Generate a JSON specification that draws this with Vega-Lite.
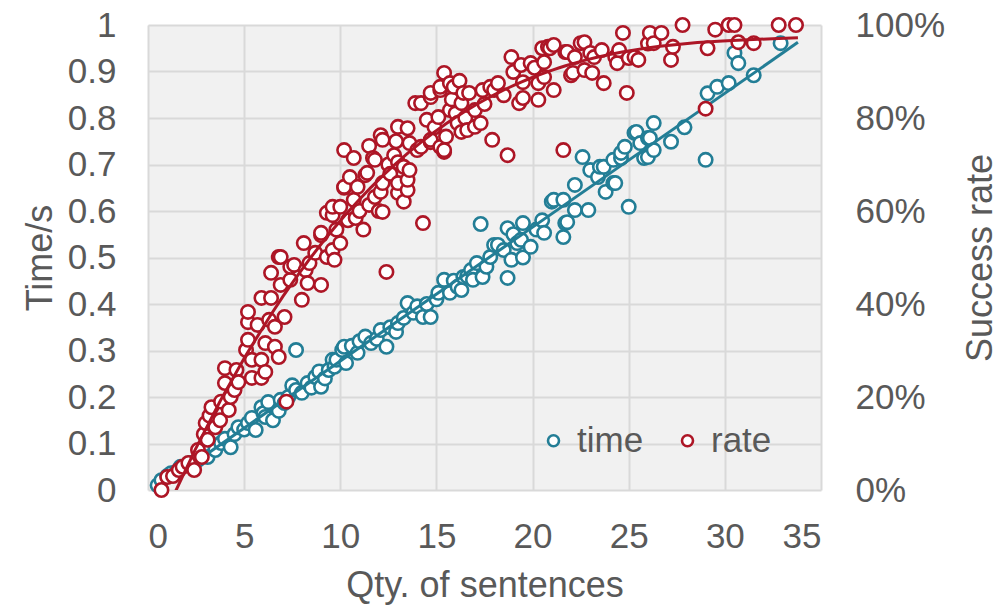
{
  "$schema": "https://vega.github.io/schema/vega-lite/v6.json",
  "width": 673,
  "height": 465,
  "autosize": {"type": "none"},
  "padding": {"left": 148, "top": 25, "right": 182, "bottom": 115},
  "background": "white",
  "config": {
    "font": "Liberation Sans",
    "view": {"stroke": null, "fill": "#f1f1f1"},
    "axis": {
      "domain": false,
      "ticks": false,
      "tickSize": 0,
      "gridColor": "#d9d9d9",
      "gridWidth": 2,
      "labelFontSize": 35,
      "labelColor": "#595959",
      "titleFontSize": 36,
      "titleFontWeight": "normal",
      "titleColor": "#595959"
    }
  },
  "datasets": {
    "pts": [
      {"s":"time","x":0.5,"v":0.01},{"s":"time","x":0.7,"v":0.021},{"s":"time","x":1.0,"v":0.03},{"s":"time","x":1.2,"v":0.036},{"s":"time","x":1.5,"v":0.04},{"s":"time","x":1.7,"v":0.05},{"s":"time","x":2.2,"v":0.058},{"s":"time","x":2.6,"v":0.065},{"s":"time","x":3.1,"v":0.071},{"s":"time","x":3.5,"v":0.086},{"s":"time","x":3.8,"v":0.101},{"s":"time","x":4.0,"v":0.11},{"s":"time","x":4.3,"v":0.092},{"s":"time","x":4.5,"v":0.12},{"s":"time","x":4.7,"v":0.135},{"s":"time","x":5.0,"v":0.13},{"s":"time","x":5.2,"v":0.144},{"s":"time","x":5.4,"v":0.155},{"s":"time","x":5.6,"v":0.129},{"s":"time","x":5.9,"v":0.178},{"s":"time","x":6.0,"v":0.165},{"s":"time","x":6.1,"v":0.157},{"s":"time","x":6.25,"v":0.189},{"s":"time","x":6.5,"v":0.15},{"s":"time","x":6.8,"v":0.17},{"s":"time","x":6.9,"v":0.194},{"s":"time","x":7.1,"v":0.187},{"s":"time","x":7.3,"v":0.2},{"s":"time","x":7.5,"v":0.225},{"s":"time","x":7.7,"v":0.215},{"s":"time","x":7.7,"v":0.301},{"s":"time","x":8.0,"v":0.209},{"s":"time","x":8.3,"v":0.23},{"s":"time","x":8.5,"v":0.22},{"s":"time","x":8.7,"v":0.243},{"s":"time","x":8.9,"v":0.255},{"s":"time","x":9.0,"v":0.222},{"s":"time","x":9.2,"v":0.24},{"s":"time","x":9.4,"v":0.258},{"s":"time","x":9.6,"v":0.28},{"s":"time","x":9.7,"v":0.265},{"s":"time","x":9.8,"v":0.28},{"s":"time","x":10.1,"v":0.301},{"s":"time","x":10.2,"v":0.308},{"s":"time","x":10.3,"v":0.273},{"s":"time","x":10.6,"v":0.31},{"s":"time","x":10.9,"v":0.295},{"s":"time","x":11.0,"v":0.32},{"s":"time","x":11.3,"v":0.33},{"s":"time","x":11.6,"v":0.316},{"s":"time","x":11.9,"v":0.325},{"s":"time","x":12.1,"v":0.344},{"s":"time","x":12.4,"v":0.308},{"s":"time","x":12.6,"v":0.35},{"s":"time","x":12.9,"v":0.34},{"s":"time","x":13.0,"v":0.359},{"s":"time","x":13.3,"v":0.37},{"s":"time","x":13.5,"v":0.402},{"s":"time","x":13.8,"v":0.381},{"s":"time","x":14.0,"v":0.395},{"s":"time","x":14.3,"v":0.372},{"s":"time","x":14.5,"v":0.4},{"s":"time","x":14.7,"v":0.372},{"s":"time","x":15.0,"v":0.41},{"s":"time","x":15.1,"v":0.424},{"s":"time","x":15.4,"v":0.452},{"s":"time","x":15.7,"v":0.424},{"s":"time","x":15.9,"v":0.45},{"s":"time","x":16.1,"v":0.437},{"s":"time","x":16.3,"v":0.43},{"s":"time","x":16.4,"v":0.458},{"s":"time","x":16.6,"v":0.46},{"s":"time","x":16.8,"v":0.473},{"s":"time","x":16.9,"v":0.452},{"s":"time","x":17.1,"v":0.488},{"s":"time","x":17.3,"v":0.572},{"s":"time","x":17.4,"v":0.458},{"s":"time","x":17.6,"v":0.48},{"s":"time","x":17.8,"v":0.501},{"s":"time","x":18.0,"v":0.527},{"s":"time","x":18.2,"v":0.527},{"s":"time","x":18.5,"v":0.516},{"s":"time","x":18.7,"v":0.456},{"s":"time","x":18.7,"v":0.563},{"s":"time","x":18.9,"v":0.495},{"s":"time","x":19.0,"v":0.55},{"s":"time","x":19.2,"v":0.531},{"s":"time","x":19.4,"v":0.538},{"s":"time","x":19.5,"v":0.574},{"s":"time","x":19.5,"v":0.5},{"s":"time","x":19.9,"v":0.523},{"s":"time","x":20.2,"v":0.56},{"s":"time","x":20.5,"v":0.58},{"s":"time","x":20.6,"v":0.553},{"s":"time","x":21.0,"v":0.62},{"s":"time","x":21.1,"v":0.624},{"s":"time","x":21.6,"v":0.544},{"s":"time","x":21.6,"v":0.624},{"s":"time","x":21.7,"v":0.574},{"s":"time","x":21.8,"v":0.576},{"s":"time","x":22.2,"v":0.602},{"s":"time","x":22.2,"v":0.656},{"s":"time","x":22.6,"v":0.716},{"s":"time","x":22.9,"v":0.602},{"s":"time","x":23.0,"v":0.688},{"s":"time","x":23.4,"v":0.673},{"s":"time","x":23.5,"v":0.695},{"s":"time","x":23.7,"v":0.695},{"s":"time","x":23.8,"v":0.641},{"s":"time","x":24.2,"v":0.66},{"s":"time","x":24.2,"v":0.71},{"s":"time","x":24.3,"v":0.66},{"s":"time","x":24.6,"v":0.714},{"s":"time","x":24.6,"v":0.725},{"s":"time","x":24.8,"v":0.738},{"s":"time","x":25.0,"v":0.609},{"s":"time","x":25.3,"v":0.768},{"s":"time","x":25.4,"v":0.77},{"s":"time","x":25.6,"v":0.746},{"s":"time","x":25.8,"v":0.714},{"s":"time","x":26.0,"v":0.716},{"s":"time","x":26.0,"v":0.757},{"s":"time","x":26.1,"v":0.757},{"s":"time","x":26.3,"v":0.789},{"s":"time","x":26.3,"v":0.731},{"s":"time","x":27.2,"v":0.749},{"s":"time","x":27.9,"v":0.78},{"s":"time","x":29.0,"v":0.71},{"s":"time","x":29.1,"v":0.853},{"s":"time","x":29.6,"v":0.867},{"s":"time","x":30.2,"v":0.875},{"s":"time","x":30.5,"v":0.94},{"s":"time","x":30.7,"v":0.918},{"s":"time","x":31.5,"v":0.892},{"s":"time","x":32.9,"v":0.961},
      {"s":"rate","x":0.7,"v":0.0},{"s":"rate","x":1.0,"v":0.028},{"s":"rate","x":1.3,"v":0.03},{"s":"rate","x":1.6,"v":0.043},{"s":"rate","x":1.8,"v":0.05},{"s":"rate","x":2.1,"v":0.058},{"s":"rate","x":2.4,"v":0.043},{"s":"rate","x":2.6,"v":0.086},{"s":"rate","x":2.8,"v":0.071},{"s":"rate","x":2.9,"v":0.12},{"s":"rate","x":3.0,"v":0.144},{"s":"rate","x":3.1,"v":0.108},{"s":"rate","x":3.2,"v":0.16},{"s":"rate","x":3.3,"v":0.178},{"s":"rate","x":3.5,"v":0.135},{"s":"rate","x":3.75,"v":0.15},{"s":"rate","x":3.8,"v":0.19},{"s":"rate","x":4.0,"v":0.23},{"s":"rate","x":4.0,"v":0.262},{"s":"rate","x":4.2,"v":0.172},{"s":"rate","x":4.3,"v":0.2},{"s":"rate","x":4.5,"v":0.215},{"s":"rate","x":4.6,"v":0.258},{"s":"rate","x":4.7,"v":0.232},{"s":"rate","x":5.1,"v":0.301},{"s":"rate","x":5.2,"v":0.323},{"s":"rate","x":5.2,"v":0.361},{"s":"rate","x":5.2,"v":0.383},{"s":"rate","x":5.4,"v":0.241},{"s":"rate","x":5.4,"v":0.28},{"s":"rate","x":5.7,"v":0.355},{"s":"rate","x":5.9,"v":0.241},{"s":"rate","x":5.9,"v":0.28},{"s":"rate","x":5.9,"v":0.413},{"s":"rate","x":6.1,"v":0.254},{"s":"rate","x":6.1,"v":0.316},{"s":"rate","x":6.3,"v":0.366},{"s":"rate","x":6.4,"v":0.413},{"s":"rate","x":6.4,"v":0.467},{"s":"rate","x":6.6,"v":0.308},{"s":"rate","x":6.6,"v":0.351},{"s":"rate","x":6.8,"v":0.286},{"s":"rate","x":6.8,"v":0.501},{"s":"rate","x":6.9,"v":0.441},{"s":"rate","x":6.9,"v":0.501},{"s":"rate","x":7.1,"v":0.372},{"s":"rate","x":7.2,"v":0.19},{"s":"rate","x":7.4,"v":0.452},{"s":"rate","x":7.4,"v":0.48},{"s":"rate","x":7.6,"v":0.484},{"s":"rate","x":8.0,"v":0.409},{"s":"rate","x":8.1,"v":0.531},{"s":"rate","x":8.2,"v":0.473},{"s":"rate","x":8.3,"v":0.445},{"s":"rate","x":8.4,"v":0.488},{"s":"rate","x":8.7,"v":0.51},{"s":"rate","x":9.0,"v":0.441},{"s":"rate","x":9.0,"v":0.548},{"s":"rate","x":9.0,"v":0.553},{"s":"rate","x":9.3,"v":0.501},{"s":"rate","x":9.3,"v":0.596},{"s":"rate","x":9.6,"v":0.516},{"s":"rate","x":9.6,"v":0.591},{"s":"rate","x":9.6,"v":0.609},{"s":"rate","x":9.7,"v":0.495},{"s":"rate","x":9.8,"v":0.56},{"s":"rate","x":10.0,"v":0.531},{"s":"rate","x":10.0,"v":0.609},{"s":"rate","x":10.2,"v":0.65},{"s":"rate","x":10.2,"v":0.652},{"s":"rate","x":10.2,"v":0.731},{"s":"rate","x":10.4,"v":0.58},{"s":"rate","x":10.5,"v":0.673},{"s":"rate","x":10.7,"v":0.624},{"s":"rate","x":10.7,"v":0.714},{"s":"rate","x":10.8,"v":0.585},{"s":"rate","x":10.9,"v":0.652},{"s":"rate","x":11.0,"v":0.6},{"s":"rate","x":11.2,"v":0.56},{"s":"rate","x":11.3,"v":0.677},{"s":"rate","x":11.4,"v":0.682},{"s":"rate","x":11.5,"v":0.613},{"s":"rate","x":11.5,"v":0.74},{"s":"rate","x":11.7,"v":0.714},{"s":"rate","x":11.8,"v":0.63},{"s":"rate","x":11.8,"v":0.71},{"s":"rate","x":12.0,"v":0.6},{"s":"rate","x":12.1,"v":0.641},{"s":"rate","x":12.1,"v":0.763},{"s":"rate","x":12.2,"v":0.598},{"s":"rate","x":12.2,"v":0.66},{"s":"rate","x":12.2,"v":0.753},{"s":"rate","x":12.4,"v":0.469},{"s":"rate","x":12.5,"v":0.7},{"s":"rate","x":12.6,"v":0.68},{"s":"rate","x":12.8,"v":0.72},{"s":"rate","x":12.9,"v":0.75},{"s":"rate","x":13.0,"v":0.639},{"s":"rate","x":13.0,"v":0.66},{"s":"rate","x":13.0,"v":0.705},{"s":"rate","x":13.0,"v":0.781},{"s":"rate","x":13.3,"v":0.62},{"s":"rate","x":13.3,"v":0.695},{"s":"rate","x":13.5,"v":0.645},{"s":"rate","x":13.5,"v":0.667},{"s":"rate","x":13.5,"v":0.778},{"s":"rate","x":13.6,"v":0.688},{"s":"rate","x":13.6,"v":0.746},{"s":"rate","x":13.9,"v":0.832},{"s":"rate","x":14.0,"v":0.731},{"s":"rate","x":14.2,"v":0.738},{"s":"rate","x":14.2,"v":0.832},{"s":"rate","x":14.3,"v":0.574},{"s":"rate","x":14.5,"v":0.796},{"s":"rate","x":14.7,"v":0.748},{"s":"rate","x":14.7,"v":0.753},{"s":"rate","x":14.7,"v":0.845},{"s":"rate","x":14.7,"v":0.854},{"s":"rate","x":14.9,"v":0.78},{"s":"rate","x":15.1,"v":0.802},{"s":"rate","x":15.2,"v":0.738},{"s":"rate","x":15.2,"v":0.86},{"s":"rate","x":15.2,"v":0.867},{"s":"rate","x":15.4,"v":0.727},{"s":"rate","x":15.4,"v":0.731},{"s":"rate","x":15.4,"v":0.897},{"s":"rate","x":15.5,"v":0.76},{"s":"rate","x":15.7,"v":0.817},{"s":"rate","x":15.7,"v":0.875},{"s":"rate","x":15.8,"v":0.84},{"s":"rate","x":15.9,"v":0.867},{"s":"rate","x":16.0,"v":0.81},{"s":"rate","x":16.1,"v":0.789},{"s":"rate","x":16.2,"v":0.88},{"s":"rate","x":16.3,"v":0.77},{"s":"rate","x":16.3,"v":0.832},{"s":"rate","x":16.4,"v":0.854},{"s":"rate","x":16.5,"v":0.8},{"s":"rate","x":16.6,"v":0.774},{"s":"rate","x":16.7,"v":0.854},{"s":"rate","x":17.0,"v":0.781},{"s":"rate","x":17.0,"v":0.817},{"s":"rate","x":17.3,"v":0.789},{"s":"rate","x":17.4,"v":0.86},{"s":"rate","x":17.5,"v":0.83},{"s":"rate","x":17.8,"v":0.867},{"s":"rate","x":17.9,"v":0.753},{"s":"rate","x":18.0,"v":0.86},{"s":"rate","x":18.2,"v":0.875},{"s":"rate","x":18.5,"v":0.849},{"s":"rate","x":18.7,"v":0.72},{"s":"rate","x":18.9,"v":0.931},{"s":"rate","x":19.0,"v":0.899},{"s":"rate","x":19.3,"v":0.832},{"s":"rate","x":19.4,"v":0.914},{"s":"rate","x":19.5,"v":0.843},{"s":"rate","x":19.5,"v":0.877},{"s":"rate","x":19.9,"v":0.918},{"s":"rate","x":20.1,"v":0.908},{"s":"rate","x":20.3,"v":0.839},{"s":"rate","x":20.3,"v":0.875},{"s":"rate","x":20.5,"v":0.95},{"s":"rate","x":20.6,"v":0.888},{"s":"rate","x":20.6,"v":0.92},{"s":"rate","x":20.8,"v":0.953},{"s":"rate","x":20.9,"v":0.95},{"s":"rate","x":21.1,"v":0.86},{"s":"rate","x":21.1,"v":0.957},{"s":"rate","x":21.6,"v":0.731},{"s":"rate","x":21.7,"v":0.942},{"s":"rate","x":21.8,"v":0.942},{"s":"rate","x":22.0,"v":0.892},{"s":"rate","x":22.1,"v":0.897},{"s":"rate","x":22.2,"v":0.931},{"s":"rate","x":22.5,"v":0.961},{"s":"rate","x":22.7,"v":0.903},{"s":"rate","x":22.7,"v":0.963},{"s":"rate","x":23.0,"v":0.94},{"s":"rate","x":23.1,"v":0.897},{"s":"rate","x":23.2,"v":0.931},{"s":"rate","x":23.6,"v":0.946},{"s":"rate","x":23.7,"v":0.875},{"s":"rate","x":24.3,"v":0.931},{"s":"rate","x":24.4,"v":0.918},{"s":"rate","x":24.5,"v":0.946},{"s":"rate","x":24.7,"v":0.983},{"s":"rate","x":24.9,"v":0.854},{"s":"rate","x":25.0,"v":0.929},{"s":"rate","x":25.3,"v":0.931},{"s":"rate","x":25.5,"v":0.925},{"s":"rate","x":26.0,"v":0.96},{"s":"rate","x":26.1,"v":0.983},{"s":"rate","x":26.3,"v":0.961},{"s":"rate","x":26.7,"v":0.983},{"s":"rate","x":27.2,"v":0.925},{"s":"rate","x":27.3,"v":0.953},{"s":"rate","x":27.8,"v":1.0},{"s":"rate","x":29.0,"v":0.82},{"s":"rate","x":29.1,"v":0.95},{"s":"rate","x":29.5,"v":0.99},{"s":"rate","x":30.2,"v":1.0},{"s":"rate","x":30.5,"v":1.0},{"s":"rate","x":30.7,"v":0.963},{"s":"rate","x":31.5,"v":0.961},{"s":"rate","x":32.8,"v":1.0},{"s":"rate","x":33.7,"v":1.0}
    ]
  },
  "layer": [
    {
      "data": {"name": "pts"},
      "transform": [{"filter": "datum.s === 'time'"}],
      "layer": [
        {
          "mark": {"type": "point", "shape": "circle", "filled": true, "fill": "white", "strokeWidth": 2.6, "size": 180, "opacity": 1},
          "encoding": {
            "x": {"field": "x", "type": "quantitative", "scale": {"domain": [0, 35], "nice": false, "zero": false},
              "axis": {"values": [0,5,10,15,20,25,30,35], "grid": true, "labelPadding": 57, "labelBaseline": "alphabetic", "title": "Qty. of sentences", "titleX": 336.5, "titleY": 106, "titleAlign": "center", "titleBaseline": "alphabetic", "titleAnchor": null}},
            "y": {"field": "v", "type": "quantitative", "scale": {"domain": [0, 1], "nice": false, "zero": false},
              "axis": {"orient": "left", "values": [0,0.1,0.2,0.3,0.4,0.5,0.6,0.7,0.8,0.9,1], "format": "~g", "grid": true, "labelPadding": 32, "title": "Time/s", "titleAngle": 270, "titleX": -108, "titleY": 232.5, "titleAlign": "center", "titleBaseline": "middle"}},
            "stroke": {"field": "s", "type": "nominal", "scale": {"domain": ["time", "rate"], "range": ["#237E96", "#AD1626"]},
              "legend": {"title": null, "orient": "none", "direction": "horizontal", "legendX": 388, "legendY": 398, "padding": 0, "symbolType": "circle", "symbolSize": 121, "symbolStrokeWidth": 2.6, "symbolFillColor": "white", "labelFontSize": 35, "labelColor": "#595959", "labelOffset": 6, "columnPadding": 26}}
          }
        },
        {
          "mark": {"type": "line", "color": "#237E96", "strokeWidth": 3, "clip": true},
          "transform": [{"regression": "v", "on": "x", "method": "linear", "extent": [0.6, 33.8]}],
          "encoding": {
            "x": {"field": "x", "type": "quantitative"},
            "y": {"field": "v", "type": "quantitative"}
          }
        }
      ]
    },
    {
      "data": {"name": "pts"},
      "transform": [{"filter": "datum.s === 'rate'"}],
      "layer": [
        {
          "mark": {"type": "point", "shape": "circle", "filled": true, "fill": "white", "strokeWidth": 2.6, "size": 180, "opacity": 1},
          "encoding": {
            "x": {"field": "x", "type": "quantitative"},
            "y": {"field": "v", "type": "quantitative", "scale": {"domain": [0, 1], "nice": false, "zero": false},
              "axis": {"orient": "right", "values": [0,0.2,0.4,0.6,0.8,1], "format": ".0%", "grid": false, "labelPadding": 34, "title": "Success rate", "titleAngle": 270, "titleX": 159, "titleY": 232.5, "titleAlign": "center", "titleBaseline": "middle"}},
            "stroke": {"field": "s", "type": "nominal"}
          }
        },
        {
          "mark": {"type": "line", "color": "#AD1626", "strokeWidth": 3, "clip": true},
          "transform": [{"regression": "v", "on": "x", "method": "poly", "order": 3, "extent": [1.15, 33.8]}],
          "encoding": {
            "x": {"field": "x", "type": "quantitative"},
            "y": {"field": "v", "type": "quantitative"}
          }
        }
      ]
    }
  ],
  "resolve": {"scale": {"y": "independent"}}
}
